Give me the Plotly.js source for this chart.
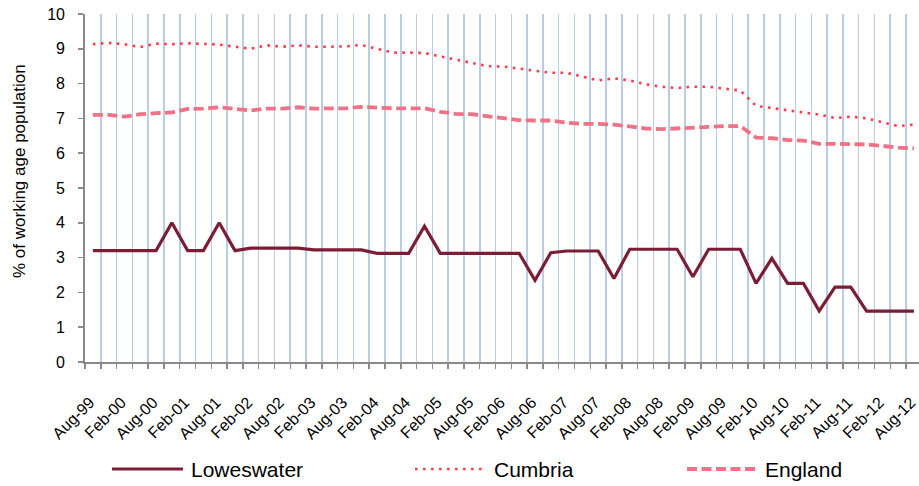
<!DOCTYPE html>
<html>
<head>
<meta charset="utf-8">
<script src="https://cdn.plot.ly/plotly-3.0.1.min.js"></script>
<style>
html,body{margin:0;padding:0;background:#fff;}
#chart{width:919px;height:486px;}
</style>
</head>
<body>
<div id="chart"></div>
<script>
// Quarterly categories, Aug-99 .. Aug-12
var quarters = [
  "Aug-99","Nov-99","Feb-00","May-00","Aug-00","Nov-00","Feb-01","May-01","Aug-01","Nov-01",
  "Feb-02","May-02","Aug-02","Nov-02","Feb-03","May-03","Aug-03","Nov-03","Feb-04","May-04",
  "Aug-04","Nov-04","Feb-05","May-05","Aug-05","Nov-05","Feb-06","May-06","Aug-06","Nov-06",
  "Feb-07","May-07","Aug-07","Nov-07","Feb-08","May-08","Aug-08","Nov-08","Feb-09","May-09",
  "Aug-09","Nov-09","Feb-10","May-10","Aug-10","Nov-10","Feb-11","May-11","Aug-11","Nov-11",
  "Feb-12","May-12","Aug-12"
];
// Tick labels shown (every second quarter)
var tickLabels = quarters.map(function(q, i){ return i % 2 === 0 ? q : ""; });

var loweswater = [
  3.2,3.2,3.2,3.2,3.2,4.0,3.2,3.2,4.0,3.2,
  3.27,3.27,3.27,3.27,3.22,3.22,3.22,3.22,3.12,3.12,
  3.12,3.9,3.12,3.12,3.12,3.12,3.12,3.12,2.35,3.14,
  3.19,3.19,3.19,2.4,3.24,3.24,3.24,3.24,2.45,3.24,
  3.24,3.24,2.26,2.98,2.26,2.26,1.47,2.15,2.15,1.46,
  1.46,1.46,1.46
];
var cumbria = [
  9.13,9.17,9.13,9.05,9.15,9.13,9.16,9.13,9.12,9.06,
  9.0,9.1,9.06,9.1,9.06,9.06,9.07,9.11,8.99,8.89,
  8.89,8.88,8.78,8.69,8.6,8.5,8.49,8.43,8.37,8.31,
  8.31,8.21,8.09,8.15,8.09,7.98,7.91,7.87,7.91,7.91,
  7.86,7.8,7.36,7.29,7.23,7.17,7.11,7.01,7.05,7.0,
  6.89,6.78,6.82
];
var england = [
  7.1,7.1,7.05,7.12,7.15,7.17,7.27,7.28,7.32,7.28,
  7.23,7.28,7.28,7.32,7.28,7.29,7.29,7.33,7.3,7.29,
  7.29,7.29,7.19,7.13,7.12,7.06,7.0,6.95,6.94,6.94,
  6.88,6.84,6.84,6.82,6.77,6.71,6.69,6.71,6.74,6.77,
  6.78,6.78,6.45,6.43,6.38,6.36,6.27,6.27,6.27,6.25,
  6.21,6.16,6.14
];
var yTicks = [0,1,2,3,4,5,6,7,8,9,10];
var seriesNames = ["Loweswater","Cumbria","England"];
var seriesColors = ["#7b1e35","#ff3b4a","#ef7286"];

var FONT = "Arial, 'Liberation Sans', sans-serif";

var traces = [
  {x: quarters, y: loweswater, name: seriesNames[0], type: "scatter", mode: "lines",
   line: {color: seriesColors[0], width: 3.2}},
  {x: quarters, y: cumbria, name: seriesNames[1], type: "scatter", mode: "lines",
   line: {color: seriesColors[1], width: 2.6, dash: "2.6px,5.4px"}},
  {x: quarters, y: england, name: seriesNames[2], type: "scatter", mode: "lines",
   line: {color: seriesColors[2], width: 3.8, dash: "10px,4.5px"}}
];

// plot area geometry (px) used to place the manual legend
var L = 85, T = 14, W = 834, H = 348;
function px(xp){ return (xp - L) / W; }
function py(yp){ return (T + H - yp) / H; }

var legendY = 469;
var legendItems = [
  {x0: 112, x1: 183, tx: 189, dash: "solid", width: 3.2},
  {x0: 415, x1: 484, tx: 492, dash: "2.6px,5.4px", width: 2.6},
  {x0: 687, x1: 756, tx: 763, dash: "10px,4.5px", width: 3.8}
];
var shapes = [], annotations = [];
legendItems.forEach(function(it, i){
  shapes.push({type: "line", xref: "paper", yref: "paper",
    x0: px(it.x0), x1: px(it.x1), y0: py(legendY), y1: py(legendY),
    line: {color: seriesColors[i], width: it.width, dash: it.dash}});
  annotations.push({xref: "paper", yref: "paper", x: px(it.tx), y: py(legendY),
    xanchor: "left", yanchor: "middle", showarrow: false, text: seriesNames[i],
    font: {family: FONT, size: 21, color: "#000"}});
});
annotations.push({xref: "paper", yref: "paper", x: px(19), y: py(171),
  xanchor: "center", yanchor: "middle", showarrow: false, textangle: -90,
  text: "% of working age population", font: {family: FONT, size: 17, color: "#000"}});

var layout = {
  width: 919, height: 486,
  margin: {l: L, r: 0, t: T, b: 486 - T - H, pad: 0},
  paper_bgcolor: "#fff", plot_bgcolor: "#fff",
  showlegend: false,
  font: {family: FONT, color: "#000"},
  xaxis: {
    type: "category",
    range: [-0.5, 52.32],
    tickmode: "array", tickvals: quarters, ticktext: tickLabels,
    tickson: "boundaries",
    ticks: "outside", ticklen: 5, tickwidth: 1.5, tickcolor: "#8a8a8a",
    showgrid: true, gridcolor: "#b9cde5", gridwidth: 1.6,
    showline: true, linecolor: "#8a8a8a", linewidth: 1.8,
    tickangle: -45,
    tickfont: {family: FONT, size: 16, color: "#000"},
    ticklabelstandoff: 23,
    ticklabelshift: -3,
    zeroline: false, fixedrange: true
  },
  yaxis: {
    range: [0, 10],
    tickmode: "array", tickvals: yTicks,
    ticks: "outside", ticklen: 5, tickwidth: 1.5, tickcolor: "#8a8a8a",
    showgrid: false, zeroline: false,
    showline: true, linecolor: "#8a8a8a", linewidth: 1.8,
    tickfont: {family: FONT, size: 16, color: "#000"},
    ticklabelstandoff: 10,
    fixedrange: true
  },
  shapes: shapes,
  annotations: annotations
};

Plotly.newPlot("chart", traces, layout, {displayModeBar: false, staticPlot: true});
</script>
</body>
</html>
